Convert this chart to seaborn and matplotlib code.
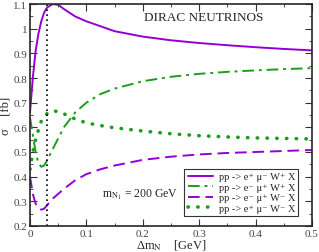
import numpy as np
import pandas as pd
import seaborn as sns
import matplotlib
matplotlib.use("Agg")
import matplotlib.pyplot as plt

# delta m_N values [GeV]
dm = [0, 0.005, 0.01, 0.015, 0.02, 0.025, 0.03, 0.04, 0.05, 0.06, 0.08, 0.1,
      0.125, 0.15, 0.2, 0.25, 0.3, 0.35, 0.4, 0.45, 0.5]

# cross sections [fb]
ep_mum_wp = [0.66, 0.80, 0.91, 0.98, 1.03, 1.065, 1.085, 1.10, 1.097, 1.08, 1.05, 1.03,
             1.01, 0.99, 0.968, 0.953, 0.942, 0.933, 0.925, 0.918, 0.912]
em_mup_wp = [0.64, 0.57, 0.50, 0.455, 0.44, 0.445, 0.465, 0.51, 0.555, 0.60, 0.66, 0.70,
             0.735, 0.757, 0.787, 0.805, 0.817, 0.825, 0.831, 0.836, 0.84]
em_mup_wm = [0.40, 0.33, 0.29, 0.272, 0.266, 0.27, 0.283, 0.31, 0.33, 0.35, 0.385, 0.41,
             0.43, 0.445, 0.468, 0.481, 0.49, 0.496, 0.5, 0.504, 0.508]
ep_mum_wm = [0.43, 0.50, 0.55, 0.59, 0.625, 0.643, 0.655, 0.667, 0.664, 0.655, 0.634, 0.618,
             0.607, 0.598, 0.585, 0.574, 0.566, 0.561, 0.557, 0.555, 0.553]

labels = ["pp -> e⁺ μ⁻ W⁺ X",
          "pp -> e⁻ μ⁺ W⁺ X",
          "pp -> e⁻ μ⁺ W⁻ X",
          "pp -> e⁺ μ⁻ W⁻ X"]

xticks = [0, 0.1, 0.2, 0.3, 0.4, 0.5]
xticklabels = ["0", "0.1", "0.2", "0.3", "0.4", "0.5"]
yticks = [0.2, 0.3, 0.4, 0.5, 0.6, 0.7, 0.8, 0.9, 1.0, 1.1]
yticklabels = ["0.2", "0.3", "0.4", "0.5", "0.6", "0.7", "0.8", "0.9", "1", "1.1"]

sns.set_style("ticks")
plt.rcParams['font.family'] = ['Liberation Serif', 'DejaVu Serif']
plt.rcParams['mathtext.fontset'] = 'stix'

purple = "#9400d3"
green = "#1c9e1c"

fig = plt.figure(figsize=(3.19, 2.53), dpi=100)
ax = fig.add_axes([0.094, 0.103, 0.884, 0.877])

sns.lineplot(x=dm, y=ep_mum_wp, ax=ax, color=purple, lw=1.4, label=labels[0])
sns.lineplot(x=dm, y=em_mup_wp, ax=ax, color=green, lw=1.4, label=labels[1]
             ).lines[-1].set_dashes([6, 2.5, 1.5, 2.5])
sns.lineplot(x=dm, y=em_mup_wm, ax=ax, color=purple, lw=1.4, label=labels[2]
             ).lines[-1].set_dashes([6, 3])
l4 = sns.lineplot(x=dm, y=ep_mum_wm, ax=ax, color=green, lw=2.6, label=labels[3]).lines[-1]
l4.set_dashes([0.1, 2.6])
l4.set_dash_capstyle("round")

ax.axvline(0.03, color="black", ls=(0, (1, 2)), lw=1.2)

ax.set_xlim(0, 0.5)
ax.set_ylim(0.2, 1.1)
ax.set_xticks(xticks)
ax.set_xticklabels(xticklabels)
ax.set_xticks([0.05, 0.15, 0.25, 0.35, 0.45], minor=True)
ax.set_yticks(yticks)
ax.set_yticklabels(yticklabels)
ax.set_yticks([0.25, 0.35, 0.45, 0.55, 0.65, 0.75, 0.85, 0.95, 1.05], minor=True)
ax.tick_params(which="both", direction="in", top=True, right=True, labelsize=8, pad=2,
               colors="#333333", labelcolor="#444444")
ax.tick_params(which="major", length=5)
ax.tick_params(which="minor", length=2.5)
for s in ax.spines.values():
    s.set_linewidth(1.2)

ax.set_xlabel("Δm$_{\\mathrm{N}}$    [GeV]", fontsize=9, labelpad=0)
ax.set_ylabel("σ    [fb]", fontsize=9, labelpad=1)

ax.text(0.405, 0.94, "DIRAC NEUTRINOS", transform=ax.transAxes, fontsize=9.5, va="center")
ax.text(0.255, 0.144, "m$_{\\mathrm{N_1}}$ = 200 GeV", transform=ax.transAxes, fontsize=8.5,
        va="center")

leg = ax.legend(loc="lower right", bbox_to_anchor=(0.952, 0.045), fontsize=7.5, frameon=True,
                fancybox=False, edgecolor="black", handlelength=2.4, labelspacing=0.12,
                borderpad=0.3, handletextpad=0.6, borderaxespad=0)
leg.get_frame().set_linewidth(0.8)

fig.savefig("out.png", dpi=100)
